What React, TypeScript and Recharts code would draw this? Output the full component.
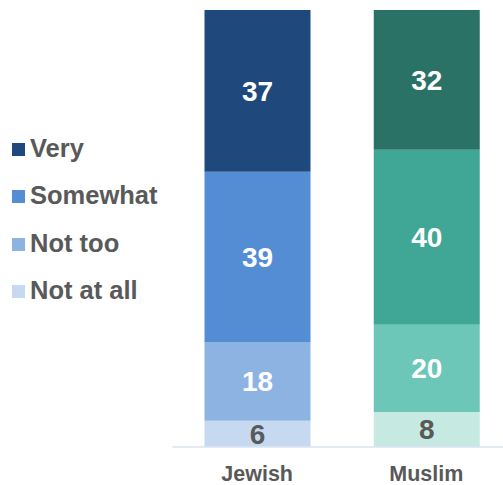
import React from 'react';
import { BarChart, Bar, XAxis, YAxis, Cell, LabelList, Legend } from 'recharts';

const categories = ['Jewish', 'Muslim'];
const very = [37, 32];
const somewhat = [39, 40];
const notToo = [18, 20];
const notAtAll = [6, 8];

const seriesNames = ['Very', 'Somewhat', 'Not too', 'Not at all'];
const seriesKeys = ['very', 'somewhat', 'notToo', 'notAtAll'];

const palette: Record<string, string[]> = {
  very: ['#1F497D', '#2A7265'],
  somewhat: ['#548DD4', '#40A796'],
  notToo: ['#8DB3E2', '#6DC7B8'],
  notAtAll: ['#C6D9F1', '#C6EAE2'],
};

const labelColors: Record<string, string> = {
  very: '#FFFFFF',
  somewhat: '#FFFFFF',
  notToo: '#FFFFFF',
  notAtAll: '#595959',
};

const data = categories.map((c, i) => ({
  name: c,
  very: very[i],
  somewhat: somewhat[i],
  notToo: notToo[i],
  notAtAll: notAtAll[i],
}));

const FONT = '"Liberation Sans", Arial, Helvetica, sans-serif';

const legendRectY = [143, 190, 238, 285];
const legendTextY = [156.5, 204, 251.5, 299];

const renderLegend = () => (
  <div style={{ position: 'relative', width: 0, height: 0 }}>
    <svg width={180} height={320} style={{ position: 'absolute', left: 0, top: 0, overflow: 'visible' }}>
      {seriesKeys.map((k, i) => (
        <g key={k}>
          <rect x={12} y={legendRectY[i]} width={13} height={13} fill={palette[k][0]} />
          <text x={30} y={legendTextY[i]} fontFamily={FONT} fontWeight="bold" fontSize={25.5} fill="#595959">
            {seriesNames[i]}
          </text>
        </g>
      ))}
    </svg>
  </div>
);

const order = ['notAtAll', 'notToo', 'somewhat', 'very'];

export default function App() {
  return (
    <div style={{ position: 'absolute', left: 0, top: 0, width: 503, height: 485, overflow: 'hidden', background: '#fff' }}>
      <BarChart
        width={511}
        height={485}
        data={data}
        margin={{ top: 10, right: 0, bottom: 0, left: 172.5 }}
        barSize={106}
      >
        <XAxis
          dataKey="name"
          axisLine={{ stroke: '#D9E5F1', strokeWidth: 1.5 }}
          tickLine={false}
          tickSize={0}
          tickMargin={19}
          height={38}
          interval={0}
          tick={{ fontFamily: FONT, fontWeight: 'bold', fontSize: 21.5, fill: '#595959' }}
        />
        <YAxis hide domain={[0, 100]} />
        <Legend
          verticalAlign="top"
          align="left"
          layout="horizontal"
          wrapperStyle={{ position: 'absolute', left: 0, top: 0, width: 0, height: 0 }}
          content={renderLegend}
        />
        {order.map((k) => (
          <Bar
            key={k}
            dataKey={k}
            stackId="a"
            name={seriesNames[seriesKeys.indexOf(k)]}
            fill={palette[k][0]}
            isAnimationActive={false}
          >
            {data.map((d, i) => (
              <Cell key={d.name} fill={palette[k][i]} />
            ))}
            <LabelList
              dataKey={k}
              position="center"
              fill={labelColors[k]}
              style={{ fontFamily: FONT, fontWeight: 'bold', fontSize: 28 }}
            />
          </Bar>
        ))}
      </BarChart>
    </div>
  );
}
